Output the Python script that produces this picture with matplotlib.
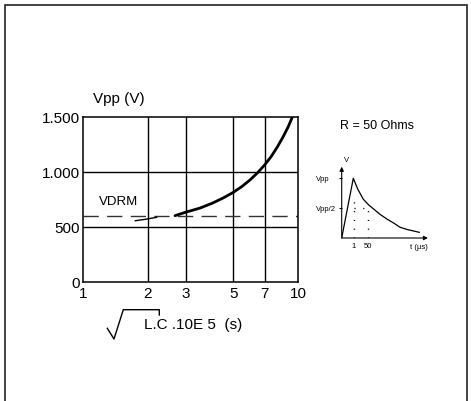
import matplotlib
matplotlib.use('Agg')
import matplotlib.pyplot as plt
from matplotlib.lines import Line2D
from matplotlib.patches import Rectangle

plt.rcParams['font.family'] = ['Liberation Sans', 'DejaVu Sans']

# main chart data
x_low = [1.75, 1.95, 2.2]
v_low = [557, 570, 588]
x_curve = [2.68, 3.0, 3.5, 4.0, 4.5, 5.0, 5.5, 6.0, 6.5, 7.0, 7.5, 8.0, 8.5, 9.0, 9.41]
v_curve = [603, 634, 672, 717, 765, 815, 870, 930, 995, 1065, 1140, 1225, 1315, 1410, 1500]
vdrm = 600
x_ticks = [1, 2, 3, 5, 7, 10]
y_ticks = [0, 500, 1000, 1500]
y_labels = ['0', '500', '1.000', '1.500']

# inset waveform (arbitrary time units, voltage as fraction of Vpp)
t_wave = [0, 11.6, 16, 21.6, 26.6, 31.6, 38, 45, 52, 58.3, 66, 77.6]
v_wave = [0, 1.0, 0.82, 0.65, 0.56, 0.49, 0.40, 0.32, 0.25, 0.18, 0.14, 0.095]

W, H = 471, 402
fig = plt.figure(figsize=(W / 100, H / 100), dpi=100)

def px(x, y):
    return x / W, 1 - y / H

# outer frame
fig.add_artist(Rectangle((5 / W, -0.05), 462 / W, 1.05 - 6 / H, transform=fig.transFigure,
                         fill=False, lw=1.2, ec='#222222'))

ax = fig.add_axes([83 / W, 1 - 283 / H, 215 / W, 165 / H])
ax.set_xscale('log')
ax.set_xlim(1, 10)
ax.set_ylim(0, 1500)
for xv in [2, 3, 5, 7]:
    ax.axvline(xv, color='k', lw=1)
for yv in [500, 1000]:
    ax.axhline(yv, color='k', lw=1)
ax.axhline(vdrm, color='#333333', lw=1, dashes=(11, 6))
ax.plot(x_low, v_low, color='k', lw=1)
ax.plot(x_curve, v_curve, color='k', lw=2, solid_capstyle='round')
ax.set_xticks(x_ticks)
ax.set_xticklabels([str(v) for v in x_ticks])
ax.xaxis.set_minor_locator(matplotlib.ticker.NullLocator())
ax.set_yticks(y_ticks)
ax.set_yticklabels(y_labels)
ax.tick_params(length=0, labelsize=11, pad=3)
ax.tick_params(axis='y', pad=2)
for s in ax.spines.values():
    s.set_linewidth(1.1)

fig.text(*px(93, 99), 'Vpp (V)', fontsize=11, va='center', ha='left')
fig.text(*px(99, 202), 'VDRM', fontsize=9.5, va='center', ha='left')
fig.text(*px(340, 126), 'R = 50 Ohms', fontsize=9, va='center', ha='left')

# x label with radical sign
rad = [(107.3, 329.3), (114, 340), (123.3, 310.7), (159.3, 310.7), (159.3, 316)]
fig.add_artist(Line2D([px(a, b)[0] for a, b in rad], [px(a, b)[1] for a, b in rad],
                      transform=fig.transFigure, color='k', lw=1))
fig.text(*px(143.5, 325), 'L.C .10E 5  (s)', fontsize=11, va='center', ha='left')

# inset
ia = fig.add_axes([341.7 / W, 1 - 239 / H, 86.3 / W, 71.3 / H])
ia.set_xlim(0, 86.3)
ia.set_ylim(0, 1.194)
for s in ia.spines.values():
    s.set_visible(False)
ia.patch.set_alpha(0)
ia.plot(t_wave, v_wave, color='k', lw=0.9)
ia.plot([12.3, 12.3], [0, 0.65], color='k', lw=1, dashes=(0.8, 5.5))
ia.plot([26.6, 26.6], [0, 0.5], color='k', lw=1, dashes=(0.8, 5.5))
ia.plot([12.3, 26.6], [0.5, 0.5], color='k', lw=1, dashes=(0.8, 5.5))
ia.annotate('', xy=(0, 1.194), xytext=(0, 0),
            arrowprops=dict(arrowstyle='-|>', lw=0.8, color='k', mutation_scale=6, shrinkA=0, shrinkB=0))
ia.annotate('', xy=(86.3, 0), xytext=(0, 0),
            arrowprops=dict(arrowstyle='-|>', lw=0.8, color='k', mutation_scale=6, shrinkA=0, shrinkB=0))
ia.set_xticks([11.6, 26.6])
ia.set_xticklabels(['1', '50'])
ia.set_yticks([1.0, 0.5])
ia.set_yticklabels([])
ia.tick_params(axis='x', length=0, labelsize=5.5, pad=3)
ia.tick_params(axis='y', length=2, width=0.8)
for yv, lab in [(1.0, 'Vpp'), (0.5, 'Vpp/2')]:
    ia.text(-25.7, yv, lab, fontsize=5.5, ha='left', va='center', clip_on=False)
ia.text(77, -0.14, 't (µs)', fontsize=5.5, ha='center', va='center', clip_on=False)
ia.text(5, 1.31, 'V', fontsize=5.5, ha='center', va='center', clip_on=False)

fig.savefig('out.png', dpi=100)
